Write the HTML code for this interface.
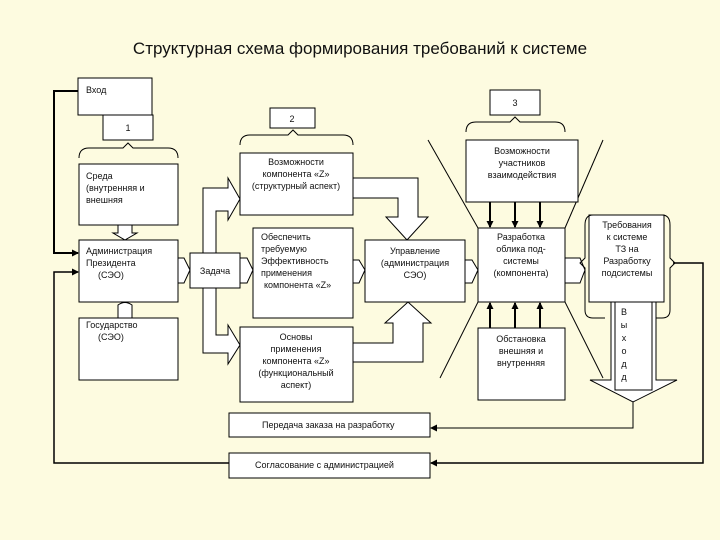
<!DOCTYPE html>
<html><head><meta charset="utf-8"><style>
html,body{margin:0;padding:0;background:#fdfbe0;}
svg{display:block;}
text{font-family:"Liberation Sans",sans-serif;font-size:9px;fill:#111;}
</style></head><body>
<svg width="720" height="540" viewBox="0 0 720 540" xmlns="http://www.w3.org/2000/svg">
<rect width="720" height="540" fill="#fdfbe0"/>
<defs><marker id="ah" markerUnits="userSpaceOnUse" markerWidth="7" markerHeight="7" refX="6" refY="3.5" orient="auto"><path d="M0,0 L7,3.5 L0,7z" fill="#000"/></marker></defs>
<text x="360" y="54" text-anchor="middle" style="font-size:17px">Структурная схема формирования требований к системе</text>
<g fill="#fff" stroke="#000" stroke-width="1">
<polyline points="78,91 54,91 54,253 78,253" fill="none" stroke-width="2" marker-end="url(#ah)"/>
<polyline points="229,463 54,463 54,272 78,272" fill="none" stroke-width="1.5" marker-end="url(#ah)"/>
<polyline points="673,263 703,263 703,463 431,463" fill="none" stroke-width="1.5" marker-end="url(#ah)"/>
<polyline points="633,402 633,428 431,428" fill="none" stroke-width="1" marker-end="url(#ah)"/>
<line x1="428" y1="140" x2="478" y2="228" fill="none"/>
<line x1="603" y1="140" x2="565" y2="228" fill="none"/>
<line x1="478" y1="302" x2="440" y2="378" fill="none"/>
<line x1="565" y1="302" x2="603" y2="378" fill="none"/>
<path d="M203,253 L203,188 L228,188 L228,178 L240,199 L228,220 L228,211 L216,211 L216,253 Z"/>
<path d="M203,288 L203,353 L228,353 L228,364 L240,345 L228,325 L228,335 L216,335 L216,288 Z"/>
<path d="M353,178 L418,178 L418,217 L428,217 L407,240 L386,217 L398,217 L398,198 L353,198 Z"/>
<path d="M353,343 L393,343 L393,323 L385,323 L408,302 L431,323 L423,323 L423,362 L353,362 Z"/>
<path d="M118,225 L118,233 L113,233 L125,240 L137,233 L132,233 L132,225 Z"/>
<path d="M118,318 L118,305 Q125,300 132,305 L132,318 Z"/>
<path d="M178,258 L184,258 L190,270 L184,283 L178,283 Z"/>
<path d="M240,258 L247,258 L253,270 L247,283 L240,283 Z"/>
<path d="M353,260 L359,260 L365,270 L359,283 L353,283 Z"/>
<path d="M465,260 L472,260 L478,270 L472,283 L465,283 Z"/>
<path d="M565,258 L580,258 L585,270 L580,283 L565,283 Z"/>
<path d="M611,302 L611,380 L590,380 L633,402 L677,380 L656,380 L656,302 Z"/>
<rect x="615" y="302" width="37" height="88"/>
<rect x="78" y="78" width="74" height="37"/>
<rect x="103" y="115" width="50" height="25"/>
<rect x="79" y="164" width="99" height="61"/>
<rect x="79" y="240" width="99" height="62"/>
<rect x="79" y="318" width="99" height="62"/>
<rect x="190" y="253" width="50" height="35"/>
<rect x="270" y="108" width="45" height="20"/>
<rect x="240" y="153" width="113" height="62"/>
<rect x="253" y="228" width="100" height="90"/>
<rect x="240" y="327" width="113" height="75"/>
<rect x="365" y="240" width="100" height="62"/>
<rect x="490" y="90" width="50" height="25"/>
<rect x="466" y="140" width="112" height="62"/>
<rect x="478" y="228" width="87" height="74"/>
<rect x="478" y="328" width="87" height="72"/>
<rect x="589" y="215" width="75" height="87"/>
<rect x="229" y="413" width="201" height="24"/>
<rect x="229" y="453" width="201" height="25"/>
<path d="M79,158 Q79,148 89,148 L123,148 L128,143 L133,148 L168,148 Q178,148 178,158" fill="none"/>
<path d="M240,145 Q240,135 250,135 L288,135 L293,130 L298,135 L343,135 Q353,135 353,145" fill="none"/>
<path d="M466,132 Q466,122 476,122 L510,122 L515,117 L520,122 L555,122 Q565,122 565,132" fill="none"/>
<path d="M593,215 Q585,215 585,225 L585,258 L580,263 L585,268 L585,310 Q585,318 593,318 L605,318" fill="none"/>
<path d="M662,215 Q670,215 670,225 L670,258 L675,263 L670,268 L670,310 Q670,318 662,318 L656,318" fill="none"/>
</g>
<g stroke="#000" stroke-width="2">
<line x1="490" y1="202" x2="490" y2="227" marker-end="url(#ah)"/>
<line x1="515" y1="202" x2="515" y2="227" marker-end="url(#ah)"/>
<line x1="540" y1="202" x2="540" y2="227" marker-end="url(#ah)"/>
<line x1="490" y1="328" x2="490" y2="303" marker-end="url(#ah)"/>
<line x1="515" y1="328" x2="515" y2="303" marker-end="url(#ah)"/>
<line x1="540" y1="328" x2="540" y2="303" marker-end="url(#ah)"/>
</g>
<text x="86" y="93">Вход</text>
<text x="128" y="131" text-anchor="middle">1</text>
<text x="86" y="179">Среда</text>
<text x="86" y="191">(внутренняя и</text>
<text x="86" y="203">внешняя</text>
<text x="86" y="254">Администрация</text>
<text x="86" y="266">Президента</text>
<text x="98" y="278">(СЭО)</text>
<text x="86" y="328">Государство</text>
<text x="98" y="340">(СЭО)</text>
<text x="215" y="274" text-anchor="middle">Задача</text>
<text x="292" y="122" text-anchor="middle">2</text>
<text x="296" y="165" text-anchor="middle">Возможности</text>
<text x="296" y="177" text-anchor="middle">компонента «Z»</text>
<text x="296" y="189" text-anchor="middle">(структурный аспект)</text>
<text x="261" y="240">Обеспечить</text>
<text x="261" y="252">требуемую</text>
<text x="261" y="264">Эффективность</text>
<text x="261" y="276">применения</text>
<text x="264" y="288">компонента «Z»</text>
<text x="296" y="340" text-anchor="middle">Основы</text>
<text x="296" y="352" text-anchor="middle">применения</text>
<text x="296" y="364" text-anchor="middle">компонента «Z»</text>
<text x="296" y="376" text-anchor="middle">(функциональный</text>
<text x="296" y="388" text-anchor="middle">аспект)</text>
<text x="415" y="254" text-anchor="middle">Управление</text>
<text x="415" y="266" text-anchor="middle">(администрация</text>
<text x="415" y="278" text-anchor="middle">СЭО)</text>
<text x="515" y="106" text-anchor="middle">3</text>
<text x="522" y="154" text-anchor="middle">Возможности</text>
<text x="522" y="166" text-anchor="middle">участников</text>
<text x="522" y="178" text-anchor="middle">взаимодействия</text>
<text x="521" y="240" text-anchor="middle">Разработка</text>
<text x="521" y="252" text-anchor="middle">облика под-</text>
<text x="521" y="264" text-anchor="middle">системы</text>
<text x="521" y="276" text-anchor="middle">(компонента)</text>
<text x="521" y="342" text-anchor="middle">Обстановка</text>
<text x="521" y="354" text-anchor="middle">внешняя и</text>
<text x="521" y="366" text-anchor="middle">внутренняя</text>
<text x="627" y="228" text-anchor="middle">Требования</text>
<text x="627" y="240" text-anchor="middle">к системе</text>
<text x="627" y="252" text-anchor="middle">ТЗ на</text>
<text x="627" y="264" text-anchor="middle">Разработку</text>
<text x="627" y="276" text-anchor="middle">подсистемы</text>
<text x="624" y="315" text-anchor="middle">В</text>
<text x="624" y="328" text-anchor="middle">ы</text>
<text x="624" y="341" text-anchor="middle">х</text>
<text x="624" y="354" text-anchor="middle">о</text>
<text x="624" y="367" text-anchor="middle">д</text>
<text x="624" y="380" text-anchor="middle">д</text>
<text x="262" y="428">Передача заказа на разработку</text>
<text x="255" y="468">Согласование с администрацией</text>
</svg>
</body></html>
